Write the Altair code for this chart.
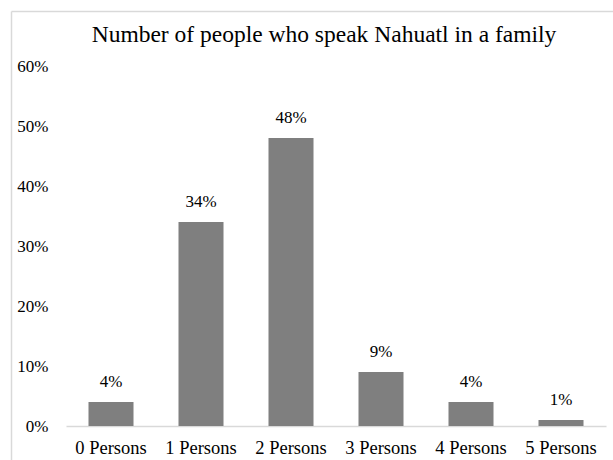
import altair as alt
import pandas as pd

categories = ["0 Persons", "1 Persons", "2 Persons", "3 Persons", "4 Persons", "5 Persons"]
shares = [0.04, 0.34, 0.48, 0.09, 0.04, 0.01]
y_ticks = [0, 0.1, 0.2, 0.3, 0.4, 0.5, 0.6]
title_text = "Number of people who speak Nahuatl in a family"

df = pd.DataFrame({"category": categories, "share": shares})
FONT = "Liberation Serif"

base = alt.Chart(df)

bars = base.mark_bar(color="#7f7f7f").encode(
    x=alt.X("category:N", sort=categories,
            scale=alt.Scale(paddingInner=0.5, paddingOuter=0.25),
            axis=alt.Axis(title=None, labelAngle=0, labelFont=FONT, labelFontSize=18.5,
                          labelColor="#000000", ticks=False, tickSize=0, labelPadding=12,
                          domainColor="#d9d9d9", domainWidth=1.5, grid=False)),
    y=alt.Y("share:Q", scale=alt.Scale(domain=[0, 0.6], nice=False),
            axis=alt.Axis(title=None, values=y_ticks, format=".0%", labelFont=FONT,
                          labelFontSize=17, labelColor="#000000", ticks=False, tickSize=0,
                          labelPadding=18, domain=False, grid=False)),
)

labels = base.mark_text(font=FONT, fontSize=17, color="#000000", baseline="alphabetic", dy=-15).encode(
    x=alt.X("category:N", sort=categories),
    y="share:Q",
    text=alt.Text("share:Q", format=".0%"),
)

one = pd.DataFrame({"a": [0]})
top_edge = alt.Chart(one).mark_rule(color="#d9d9d9", strokeWidth=1.5).encode(
    x=alt.value(-54.5), x2=alt.value(700), y=alt.value(-54.5))
left_edge = alt.Chart(one).mark_rule(color="#d9d9d9", strokeWidth=1.5).encode(
    x=alt.value(-54.5), y=alt.value(-54.5), y2=alt.value(480))

chart = alt.layer(top_edge, left_edge, bars, labels).properties(
    width=540, height=360,
    title=alt.TitleParams(title_text, font=FONT, fontSize=23.5, fontWeight="normal",
                          color="#000000", anchor="middle", frame="group",
                          offset=-36, dx=-12),
    autosize=alt.AutoSizeParams(type="none"),
    padding={"left": 66, "top": 66, "right": 7, "bottom": 34},
).configure(
    background="white", font=FONT
).configure_view(stroke=None)

chart.save("out.html", embed_options={"renderer": "svg", "actions": False})
